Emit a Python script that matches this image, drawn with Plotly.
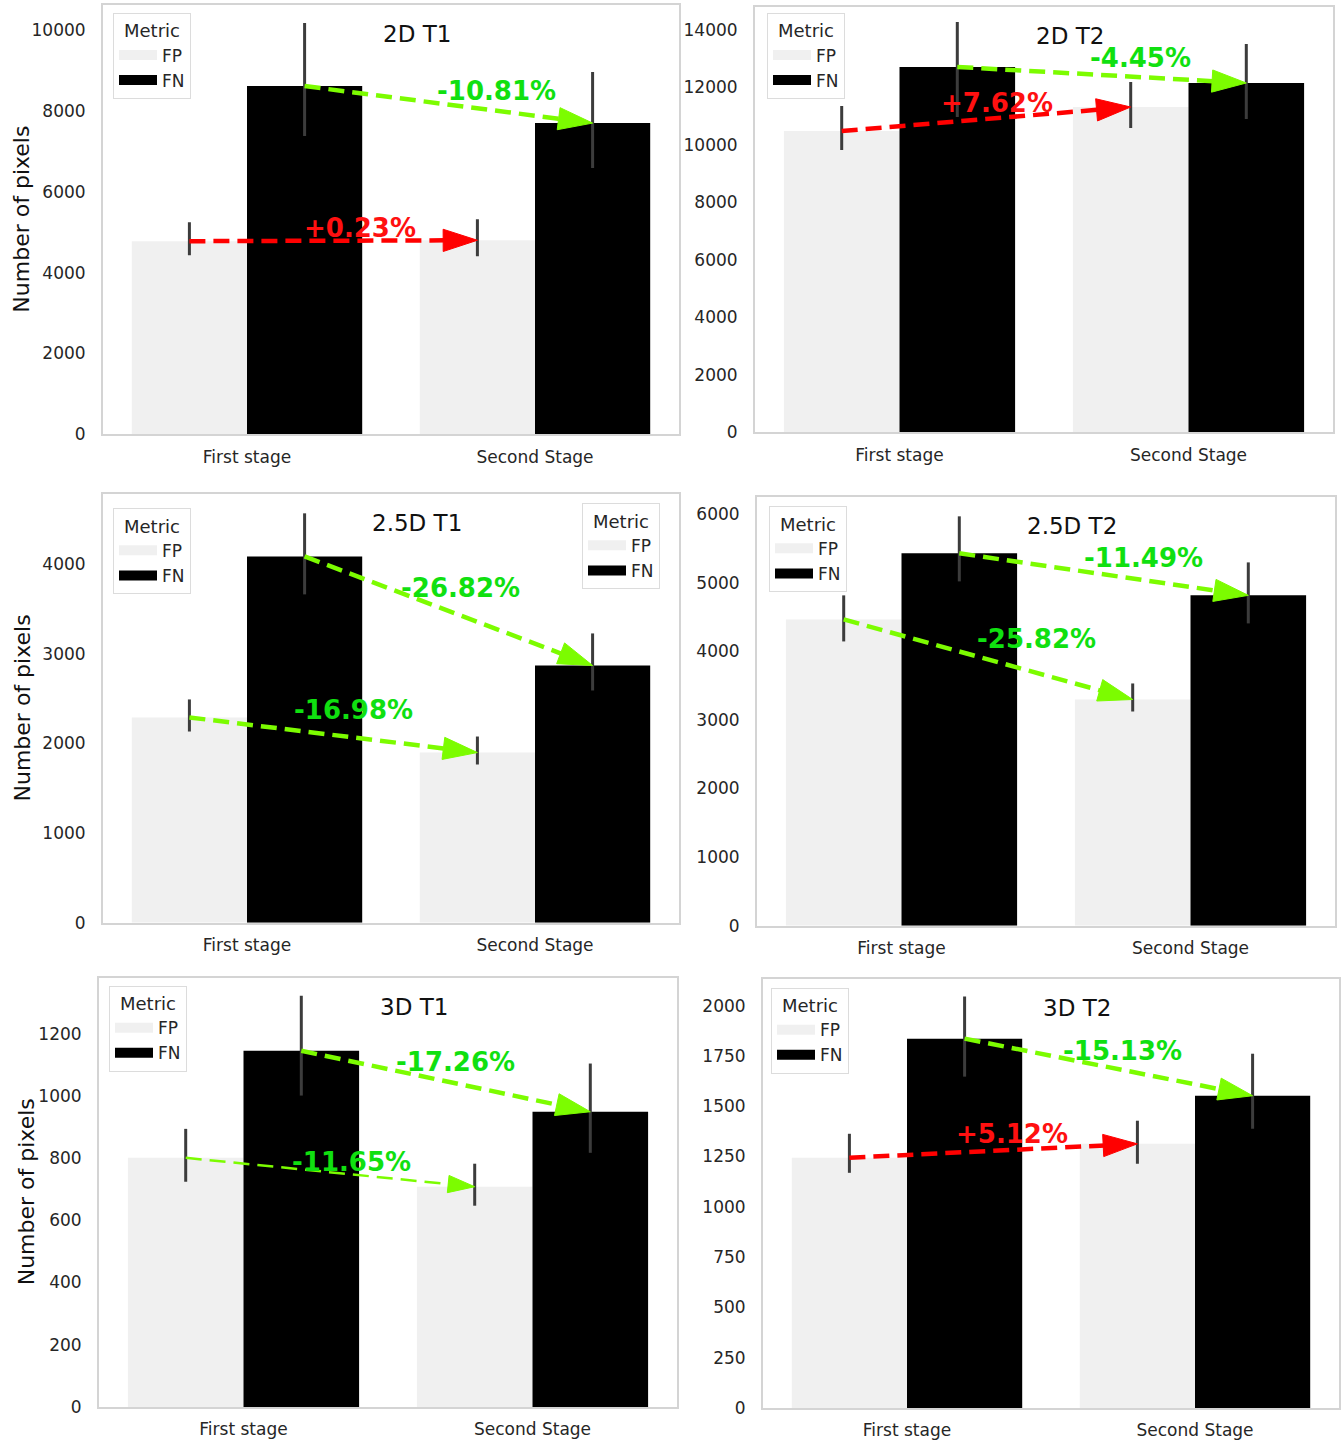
import plotly.graph_objects as go

# ---------------- data ----------------
stages = ["First stage", "Second Stage"]
panel_titles = ["2D T1", "2D T2", "2.5D T1", "2.5D T2", "3D T1", "3D T2"]

# FP / FN means per stage, and error-bar ends (low, high)
fp_2d_t1 = [4777, 4800];    fp_2d_t1_lo = [4431, 4406];   fp_2d_t1_hi = [5248, 5322]
fn_2d_t1 = [8614, 7698];    fn_2d_t1_lo = [7376, 6584];   fn_2d_t1_hi = [10173, 8960]
fp_2d_t2 = [10484, 11320];  fp_2d_t2_lo = [9822, 10589];  fp_2d_t2_hi = [11355, 12191]
fn_2d_t2 = [12713, 12156];  fn_2d_t2_lo = [10972, 10902]; fn_2d_t2_hi = [14281, 13515]
fp_25d_t1 = [2291, 1899];   fp_25d_t1_lo = [2134, 1765];  fp_25d_t1_hi = [2492, 2078]
fn_25d_t1 = [4089, 2871];   fn_25d_t1_lo = [3665, 2592];  fn_25d_t1_hi = [4570, 3229]
fp_25d_t2 = [4467, 3299];   fp_25d_t2_lo = [4146, 3124];  fp_25d_t2_hi = [4818, 3533]
fn_25d_t2 = [5431, 4818];   fn_25d_t2_lo = [5022, 4409];  fn_25d_t2_hi = [5971, 5299]
fp_3d_t1 = [801, 708];      fp_3d_t1_lo = [724, 647];     fp_3d_t1_hi = [894, 782]
fn_3d_t1 = [1145, 949];     fn_3d_t1_lo = [1001, 817];    fn_3d_t1_hi = [1322, 1104]
fp_3d_t2 = [1244, 1313];    fp_3d_t2_lo = [1169, 1214];   fp_3d_t2_hi = [1363, 1428]
fn_3d_t2 = [1836, 1552];    fn_3d_t2_lo = [1647, 1388];   fn_3d_t2_hi = [2045, 1761]

# percentage change labels (FP, FN)
pct_labels = [
    ("+0.23%", "-10.81%"),
    ("+7.62%", "-4.45%"),
    ("-16.98%", "-26.82%"),
    ("-25.82%", "-11.49%"),
    ("-11.65%", "-17.26%"),
    ("+5.12%", "-15.13%"),
]

y_tick_step = [2000, 2000, 1000, 1000, 200, 250]
y_max = [10619, 14800, 4782, 6248, 1380, 2134]

panels = [
    (fp_2d_t1, fp_2d_t1_lo, fp_2d_t1_hi, fn_2d_t1, fn_2d_t1_lo, fn_2d_t1_hi),
    (fp_2d_t2, fp_2d_t2_lo, fp_2d_t2_hi, fn_2d_t2, fn_2d_t2_lo, fn_2d_t2_hi),
    (fp_25d_t1, fp_25d_t1_lo, fp_25d_t1_hi, fn_25d_t1, fn_25d_t1_lo, fn_25d_t1_hi),
    (fp_25d_t2, fp_25d_t2_lo, fp_25d_t2_hi, fn_25d_t2, fn_25d_t2_lo, fn_25d_t2_hi),
    (fp_3d_t1, fp_3d_t1_lo, fp_3d_t1_hi, fn_3d_t1, fn_3d_t1_lo, fn_3d_t1_hi),
    (fp_3d_t2, fp_3d_t2_lo, fp_3d_t2_hi, fn_3d_t2, fn_3d_t2_lo, fn_3d_t2_hi),
]

# ---------------- layout geometry (pixels of the reference image) ----------------
W, H = 1341, 1441
FIG_H = 1452  # rendered height (photo is scaled back to 1441)
boxes = [  # (left, right, top, bottom)
    (103, 679, 5, 434),
    (755, 1333, 7, 432),
    (103, 679, 494, 922),
    (757, 1335, 497, 925),
    (99, 677, 977, 1406),
    (763, 1339, 978, 1407),
]
legend_pos = [(113, 13), (767, 13), (113, 508), (769, 506), (109, 985), (771, 987)]
extra_legend_pos = (582, 503)  # second legend in 2.5D T1
ytitle_x = [22, None, 22, None, 26, None]
label_shift = [  # ((fp dx, dy), (fn dx, dy))
    ((27, 13), (48, 14)),
    ((11, 16), (39, 17)),
    ((20, 25), (12, 23)),
    ((48, 20), (40, 16)),
    ((21, 10), (10, 19)),
    ((19, 17), (14, 16)),
]
arrow_width = [(4.5, 4.5), (4.5, 4.5), (4.5, 4.5), (4.5, 4.5), (2.5, 4.5), (4.5, 4.5)]
head_size = [(36, 36), (36, 36), (36, 36), (36, 36), (28, 36), (36, 36)]

FP_COLOR = "#f0f0f0"
FN_COLOR = "#000000"
ERR_COLOR = "#3c3c3c"
UP_LINE, UP_TEXT = "#ff0000", "#ff1010"
DOWN_LINE, DOWN_TEXT = "#7cfc00", "#10e010"
TXT = "#262626"
FONT = "DejaVu Sans"

fig = go.Figure()
layout = dict(
    width=W, height=FIG_H, margin=dict(l=0, r=0, t=0, b=0), autosize=False,
    plot_bgcolor="white", paper_bgcolor="white",
    barmode="group", bargap=0.2, bargroupgap=0,
    font=dict(family=FONT, color=TXT, size=17),
    annotations=[],
)

xs = [0, 1]
for i, (fp, fp_lo, fp_hi, fn, fn_lo, fn_hi) in enumerate(panels):
    n = "" if i == 0 else str(i + 1)
    xa, ya = "x" + n, "y" + n
    lg = "legend" + n
    l, r, t, b = boxes[i]

    for name, vals, lo, hi, col in (("FP", fp, fp_lo, fp_hi, FP_COLOR),
                                    ("FN", fn, fn_lo, fn_hi, FN_COLOR)):
        fig.add_trace(go.Bar(
            x=xs, y=vals, name=name, marker=dict(color=col, line=dict(width=0)),
            offsetgroup=name, xaxis=xa, yaxis=ya, showlegend=False,
            error_y=dict(type="data", symmetric=False,
                         array=[h - v for h, v in zip(hi, vals)],
                         arrayminus=[v - lo_ for v, lo_ in zip(vals, lo)],
                         color=ERR_COLOR, thickness=3, width=0),
        ))

    # arrows between stages (FP bar centre -> FP bar centre, FN likewise)
    for k, (vals, off) in enumerate(((fp, -0.2), (fn, 0.2))):
        up = vals[1] > vals[0]
        lc = UP_LINE if up else DOWN_LINE
        tc = UP_TEXT if up else DOWN_TEXT
        fig.add_trace(go.Scatter(
            x=[xs[0] + off, xs[1] + off], y=vals, mode="lines+markers",
            line=dict(color=lc, width=arrow_width[i][k], dash="16px,8px"),
            marker=dict(symbol=["circle", "arrow"], size=[0, head_size[i][k]], color=lc,
                        opacity=1, angleref="previous", line=dict(width=1, color=lc)),
            xaxis=xa, yaxis=ya, showlegend=False, hoverinfo="skip",
        ))
        dx, dy = label_shift[i][k]
        layout["annotations"].append(dict(
            x=(xs[0] + xs[1]) / 2 + off, y=(vals[0] + vals[1]) / 2, xref=xa, yref=ya,
            text="<b>%s</b>" % pct_labels[i][k], showarrow=False,
            xshift=dx, yshift=dy, font=dict(size=26, color=tc, family=FONT),
        ))

    # legend entries
    legends = [lg]
    if i == 2:
        legends.append("legend7")
    for L in legends:
        for name, col in (("FP", FP_COLOR), ("FN", FN_COLOR)):
            fig.add_trace(go.Scatter(
                x=[None], y=[None], mode="lines", name=name,
                line=dict(color=col, width=12), legend=L,
                xaxis=xa, yaxis=ya, showlegend=True,
            ))

    layout["xaxis" + n] = dict(
        domain=[l / W, r / W], anchor=ya, range=[-0.5, 1.5],
        tickvals=xs, ticktext=stages, showgrid=False, zeroline=False,
        showline=True, mirror=True, linecolor="#d4d4d4", linewidth=2,
        ticks="outside", ticklen=6, tickcolor="rgba(0,0,0,0)",
        tickfont=dict(size=17, color=TXT), fixedrange=True,
    )
    layout["yaxis" + n] = dict(
        domain=[1 - b / H, 1 - t / H], anchor=xa, range=[0, y_max[i]],
        dtick=y_tick_step[i], tick0=0, tickformat="d", showgrid=False, zeroline=False,
        showline=True, mirror=True, linecolor="#d4d4d4", linewidth=2,
        ticks="outside", ticklen=12, tickcolor="rgba(0,0,0,0)",
        tickfont=dict(size=17, color=TXT), fixedrange=True,
    )
    if ytitle_x[i] is not None:
        layout["annotations"].append(dict(
            x=ytitle_x[i] / W, y=0.5, xref="paper", yref=ya + " domain",
            xanchor="center", yanchor="middle", textangle=-90,
            text="Number of pixels", showarrow=False,
            font=dict(size=22, color="#111111"),
        ))

    layout["annotations"].append(dict(
        x=0.545, y=0.932, xref=xa + " domain", yref=ya + " domain",
        xanchor="center", yanchor="middle",
        text=panel_titles[i], showarrow=False, font=dict(size=23, color="#111111"),
    ))

    def legend_box(px, py):
        return dict(
            x=px / W, y=1 - py / H, xanchor="left", yanchor="top",
            bgcolor="white", bordercolor="#dcdcdc", borderwidth=1,
            title=dict(text="Metric", side="top center", font=dict(size=18, color=TXT)),
            font=dict(size=17, color=TXT), itemwidth=38, tracegroupgap=0,
            itemclick=False, itemdoubleclick=False,
        )

    layout[lg] = legend_box(*legend_pos[i])
    if i == 2:
        layout["legend7"] = legend_box(*extra_legend_pos)

fig.update_layout(**layout)
page_js = (
    "document.documentElement.style.margin='0';"
    "document.body.style.margin='0';"
    "document.body.style.padding='0';"
)
fig.write_html("out.html", post_script=page_js,
               config={"displayModeBar": False})
